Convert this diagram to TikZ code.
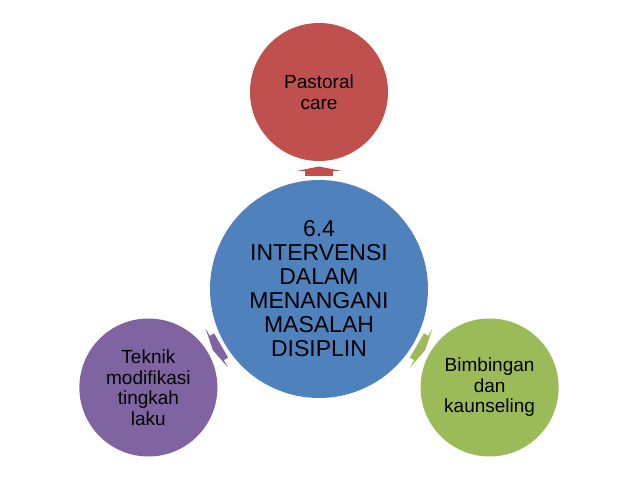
\documentclass[tikz,border=0pt]{standalone}
\usepackage{fontspec}
\setmainfont{Liberation Sans}
\usetikzlibrary{calc}
\definecolor{cred}{HTML}{C0504D}
\definecolor{cblue}{HTML}{4F81BD}
\definecolor{cgreen}{HTML}{9BBB59}
\definecolor{cpurple}{HTML}{8064A2}
\begin{document}
\begin{tikzpicture}[x=1pt,y=1pt,
  bubble/.style={circle, inner sep=0pt, align=center, text=black},
  big/.style={bubble, fill=cblue, minimum size=218pt, font=\fontsize{23}{24}\selectfont},
  small/.style={bubble, minimum size=138pt, font=\fontsize{19}{20.5}\selectfont},
  blockarr/.pic={\fill[pic actions] (113,-14) -- (118,-14) -- (118,-22.5) -- (122.5,0) -- (118,22.5) -- (118,14) -- (113,14) -- cycle;}
]
\useasboundingbox (0,0) rectangle (638,479);
\node[big] (core) at (319,190) {6.4\\INTERVENSI\\DALAM\\MENANGANI\\MASALAH\\DISIPLIN};
\node[small, fill=cred] (past) at ($(core)+(90:197)$) {Pastoral\\care};
\node[small, fill=cpurple] (tek) at ($(core)+(210:197)$) {Teknik\\modifikasi\\tingkah\\laku};
\node[small, fill=cgreen] (bim) at ($(core)+(330:197)$) {Bimbingan\\dan\\kaunseling};
\pic[fill=cred, rotate=90] at (core.center) {blockarr};
\pic[fill=cpurple, rotate=210] at (core.center) {blockarr};
\pic[fill=cgreen, rotate=330] at (core.center) {blockarr};
\end{tikzpicture}
\end{document}
